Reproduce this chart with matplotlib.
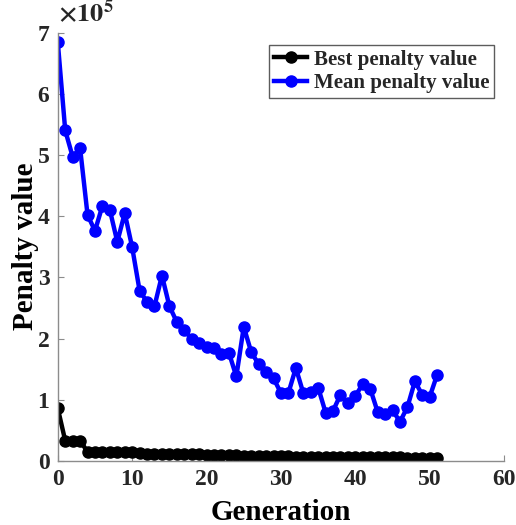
import matplotlib
matplotlib.use("Agg")
import matplotlib.pyplot as plt
from matplotlib.ticker import FuncFormatter

plt.rcParams['font.family'] = ['Liberation Serif', 'DejaVu Serif']
plt.rcParams['font.weight'] = 'bold'
plt.rcParams['mathtext.fontset'] = 'stix'
plt.rcParams['text.color'] = '#262626'
plt.rcParams['xtick.labelcolor'] = '#262626'
plt.rcParams['ytick.labelcolor'] = '#262626'

generations = list(range(52))

best_penalty = [0.86, 0.33, 0.33, 0.33, 0.15, 0.15, 0.15, 0.15, 0.15, 0.15,
                0.15, 0.13, 0.11, 0.11, 0.11, 0.11, 0.11, 0.11, 0.11, 0.11,
                0.10, 0.09, 0.09, 0.09, 0.09, 0.08, 0.08, 0.08, 0.08, 0.08,
                0.08, 0.08, 0.07, 0.07, 0.06, 0.06, 0.06, 0.06, 0.06, 0.06,
                0.06, 0.06, 0.06, 0.06, 0.06, 0.06, 0.06, 0.05, 0.05, 0.05,
                0.05, 0.05]

mean_penalty = [6.84, 5.40, 4.97, 5.11, 4.02, 3.76, 4.17, 4.10, 3.58, 4.05,
                3.49, 2.78, 2.60, 2.53, 3.03, 2.53, 2.27, 2.14, 1.99, 1.92,
                1.87, 1.85, 1.74, 1.77, 1.38, 2.19, 1.78, 1.58, 1.45, 1.35,
                1.11, 1.11, 1.52, 1.11, 1.13, 1.20, 0.79, 0.82, 1.08, 0.94,
                1.06, 1.26, 1.18, 0.80, 0.77, 0.83, 0.64, 0.88, 1.30, 1.08,
                1.05, 1.41]

scale = 1e5
best_penalty = [v * scale for v in best_penalty]
mean_penalty = [v * scale for v in mean_penalty]

fig = plt.figure(figsize=(5.16, 5.25), dpi=100)
ax = fig.add_axes([0.112, 0.122, 0.865, 0.816])

ax.plot(generations, best_penalty, color='black', lw=3.2, marker='o',
        markersize=8, label='Best penalty value')
ax.plot(generations, mean_penalty, color='blue', lw=3.2, marker='o',
        markersize=8, label='Mean penalty value')

ax.set_xlim(0, 60)
ax.set_ylim(0, 7 * scale)
ax.set_xticks(range(0, 61, 10))
ax.set_yticks([i * scale for i in range(8)])
ax.yaxis.set_major_formatter(FuncFormatter(lambda v, p: f'{v / scale:.0f}'))

for side in ('top', 'right'):
    ax.spines[side].set_visible(False)
for side in ('left', 'bottom'):
    ax.spines[side].set_color('#8c8c8c')
    ax.spines[side].set_linewidth(1.0)
ax.tick_params(direction='in', length=4, width=0.8, color='#8c8c8c',
               labelsize=17, pad=6)
for lab in ax.get_xticklabels() + ax.get_yticklabels():
    lab.set_fontweight('bold')

ax.set_xlabel('Generation', fontsize=21, fontweight='bold', labelpad=6)
ax.set_ylabel('Penalty value', fontsize=21, fontweight='bold', labelpad=-1)

ax.text(0.0, 1.012, r'$\times\mathbf{10^5}$', transform=ax.transAxes,
        fontsize=19, ha='left', va='bottom')

leg = ax.legend(loc='upper right', bbox_to_anchor=(0.978, 0.972),
                prop={'family': 'Liberation Serif', 'weight': 'bold', 'size': 15},
                frameon=True, fancybox=False, edgecolor='#333333',
                handlelength=1.6, handletextpad=0.3, borderpad=0.25,
                labelspacing=0.15, borderaxespad=0)
leg.get_frame().set_linewidth(1.0)

fig.savefig('out.png', dpi=100)
